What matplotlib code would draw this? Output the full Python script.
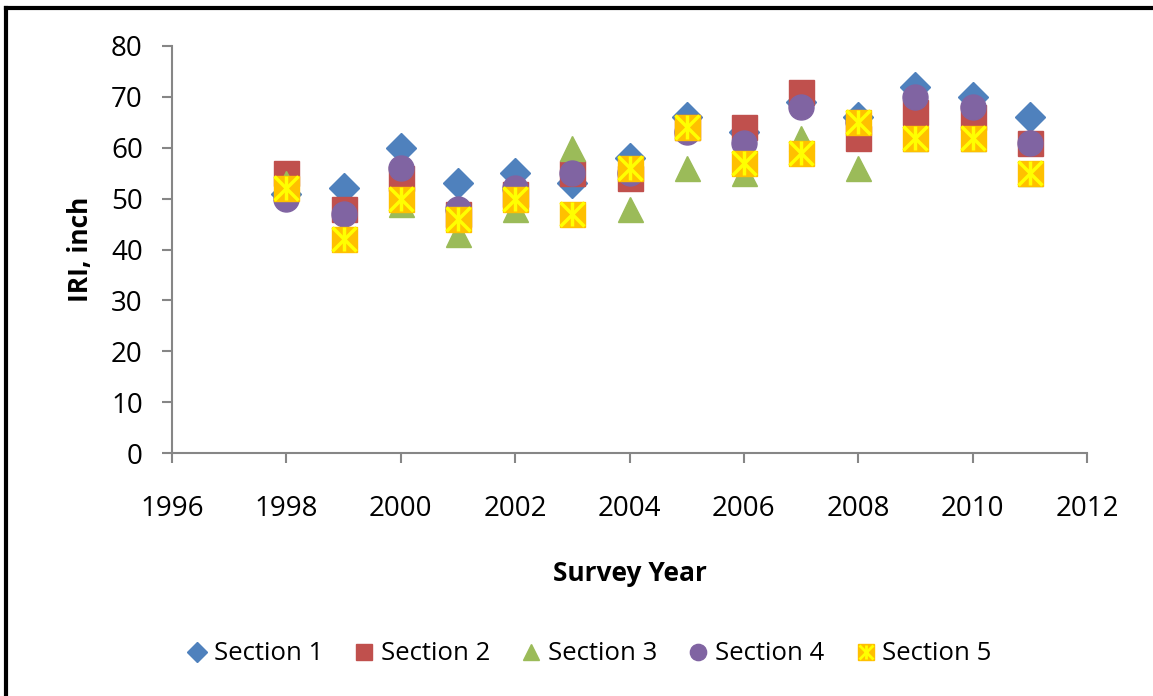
import matplotlib.pyplot as plt
from matplotlib.lines import Line2D

years = [1998, 1999, 2000, 2001, 2002, 2003, 2004, 2005, 2006, 2007, 2008, 2009, 2010, 2011]
section1 = [51, 52, 60, 53, 55, 53, 58, 66, 63, 69, 66, 72, 70, 66]
section2 = [55, 48, 54, 47, 51, 55, 54, 64, 64, 71, 62, 67, 66, 61]
section3 = [53, 43, 49, 43, 48, 60, 48, 56, 55, 62, 56, 62, 62, 55]
section4 = [50, 47, 56, 48, 52, 55, 55, 63, 61, 68, 65, 70, 68, 61]
section5 = [52, 42, 50, 46, 50, 47, 56, 64, 57, 59, 65, 62, 62, 55]

plt.rcParams['font.family'] = ['Open Sans', 'DejaVu Sans']

fig = plt.figure(figsize=(11.53, 6.96), dpi=100)
ax = fig.add_axes([172 / 1153, 1 - 453 / 696, (1087 - 172) / 1153, (453 - 46) / 696])

ax.plot(years, section1, 'D', color='#4F81BD', ms=15, label='Section 1', zorder=3)
ax.plot(years, section2, 's', color='#C0504D', ms=18, label='Section 2', zorder=3)
ax.plot(years, section3, '^', color='#9BBB59', ms=18, label='Section 3', zorder=3)
ax.plot(years, section4, 'o', color='#8064A2', ms=18, label='Section 4', zorder=3)
ax.plot(years, section5, 's', color='#FFC000', ms=18, zorder=4)
ax.plot(years, section5, 'x', color='#FFFF00', ms=17, mew=2.5, zorder=5)
ax.plot(years, section5, '|', color='#FFFF00', ms=17, mew=2.5, zorder=5)

ax.set_xlim(1996, 2012)
ax.set_ylim(0, 80)
ax.set_xticks(range(1996, 2013, 2))
ax.set_yticks(range(0, 81, 10))

for s in ['top', 'right']:
    ax.spines[s].set_visible(False)
for s in ['left', 'bottom']:
    ax.spines[s].set_color('#868686')
    ax.spines[s].set_linewidth(1.5)
ax.tick_params(colors='#868686', labelcolor='black', labelsize=20, length=7, width=1.5)
ax.tick_params(axis='x', pad=23)
ax.tick_params(axis='y', pad=14)

ax.set_xlabel('Survey Year', fontsize=19, fontweight='bold', labelpad=27)
ax.set_ylabel('IRI, inch', fontsize=19, fontweight='bold', labelpad=12)

h5 = (Line2D([], [], marker='s', ls='', color='#FFC000', ms=17),
      Line2D([], [], marker='x', ls='', color='#FFFF00', ms=16, mew=2),
      Line2D([], [], marker='|', ls='', color='#FFFF00', ms=16, mew=2))
handles, labels = ax.get_legend_handles_labels()
handles.append(h5)
labels.append('Section 5')
fig.legend(handles, labels, loc='center', bbox_to_anchor=(588 / 1153, 1 - 654 / 696),
           ncol=5, frameon=False, fontsize=18.5, handletextpad=0.15, columnspacing=1.1,
           markerscale=0.65, handlelength=1.0)

# figure frame: left and top edges only
fig.add_artist(Line2D([6 / 1153, 6 / 1153], [0, 1 - 8 / 696], color='black', lw=3, transform=fig.transFigure))
fig.add_artist(Line2D([6 / 1153, 1], [1 - 8 / 696, 1 - 8 / 696], color='black', lw=3, transform=fig.transFigure))

fig.savefig('out.png', dpi=100)
